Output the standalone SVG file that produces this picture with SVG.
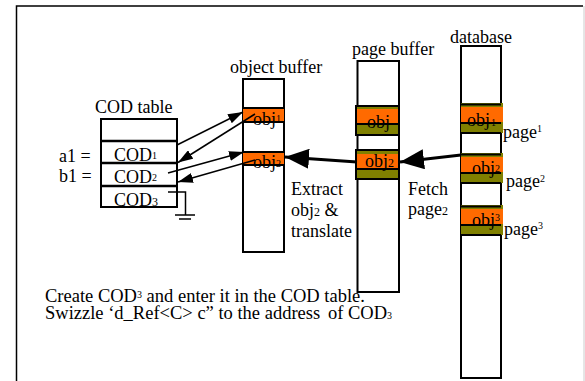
<svg xmlns="http://www.w3.org/2000/svg" width="585" height="381" viewBox="0 0 585 381" font-family="'Liberation Serif', 'Times New Roman', Times, 'DejaVu Serif', serif">
<style>
text{font-family:'Liberation Serif','Times New Roman',Times,'DejaVu Serif',serif;font-size:18px;fill:#000}
.s{font-size:10px}
.m{font-size:12px}
.note{font-size:18.5px}
.box{fill:#fff;stroke:#000;stroke-width:2}
.div{stroke:#000;stroke-width:2.5}
.or{fill:#ff6a00}
.ol{fill:#808000}
.bl{stroke:#000;stroke-width:2}
.thin{stroke:#000;stroke-width:1.5;fill:none}
.thick{stroke:#000;stroke-width:3.2;fill:none}
</style>
<defs>
<marker id="ah" markerUnits="userSpaceOnUse" markerWidth="15" markerHeight="10" refX="15" refY="5" orient="auto"><path d="M0,0 L15,5 L0,10 z" fill="#000"/></marker>
<marker id="bh" markerUnits="userSpaceOnUse" markerWidth="24" markerHeight="20" refX="24" refY="10" orient="auto"><path d="M0,0 L24,10 L0,20 z" fill="#000"/></marker>
</defs>
<rect width="585" height="381" fill="#fff"/>
<g id="frame">
<path d="M16.5,381 V6 H583" fill="none" stroke="#000" stroke-width="1.5"/>
<path d="M584,6 V381" fill="none" stroke="#ccc" stroke-width="1"/>
</g>
<g id="cod-table">
<text x="95" y="113">COD table</text>
<rect class="box" x="101" y="119" width="76" height="88"/>
<line class="div" x1="101" y1="141" x2="177" y2="141"/>
<line class="div" x1="101" y1="163" x2="177" y2="163"/>
<line class="div" x1="101" y1="186" x2="177" y2="186"/>
<text x="114" y="161">COD<tspan class="s" dy="-2">1</tspan></text>
<text x="114" y="183">COD<tspan class="s" dy="-2">2</tspan></text>
<text x="114" y="206">COD<tspan class="m">3</tspan></text>
<text x="59" y="162">a1 =</text>
<text x="59" y="182">b1 =</text>
<path class="thin" d="M168,192 H185.5 V215 M175,215 H195 M179,219 H191"/>
</g>
<g id="object-buffer">
<text x="230" y="73">object buffer</text>
<rect class="box" x="243" y="79" width="41" height="173"/>
<rect class="or" x="243" y="108" width="41" height="14"/>
<line class="bl" x1="243" y1="108" x2="284" y2="108"/>
<line class="bl" x1="243" y1="122" x2="284" y2="122"/>
<text x="253" y="125">obj<tspan class="s" dy="-3">1</tspan></text>
<rect class="or" x="243" y="152" width="41" height="13"/>
<line class="bl" x1="243" y1="152" x2="284" y2="152"/>
<line class="bl" x1="243" y1="165" x2="284" y2="165"/>
<text x="253" y="168">obj<tspan class="s" dy="-1">2</tspan></text>
</g>
<g id="page-buffer">
<text x="352" y="55">page buffer</text>
<rect class="box" x="357.5" y="61" width="41.5" height="231"/>
<rect class="ol" x="356" y="105" width="44" height="30"/>
<rect class="or" x="356" y="109" width="44" height="14"/>
<rect x="356" y="106" width="43" height="29" fill="none" stroke="#000" stroke-width="2"/>
<line class="bl" x1="356" y1="124" x2="399" y2="124"/>
<text x="367" y="128">obj</text>
<rect class="ol" x="356" y="149" width="44" height="30"/>
<rect class="or" x="356" y="154" width="44" height="14"/>
<rect x="356" y="150" width="43" height="29" fill="none" stroke="#000" stroke-width="2"/>
<line class="bl" x1="356" y1="169" x2="399" y2="169"/>
<text x="365" y="167">obj<tspan class="m">2</tspan></text>
</g>
<g id="database">
<text x="450" y="43">database</text>
<rect class="box" x="461" y="46" width="40" height="332"/>
<rect class="ol" x="461" y="103" width="42" height="30"/>
<rect class="or" x="461" y="107" width="42" height="15"/>
<line class="bl" x1="461" y1="104.5" x2="501" y2="104.5"/>
<line class="bl" x1="461" y1="123" x2="501" y2="123"/>
<line class="bl" x1="461" y1="133" x2="501" y2="133"/>
<text x="467" y="126">obj<tspan class="s" dx="1">1</tspan></text>
<rect class="ol" x="461" y="153" width="42" height="30"/>
<rect class="or" x="461" y="157" width="42" height="15"/>
<line class="bl" x1="461" y1="154.5" x2="501" y2="154.5"/>
<line class="bl" x1="461" y1="173" x2="501" y2="173"/>
<line class="bl" x1="461" y1="183" x2="501" y2="183"/>
<text x="472" y="174">obj<tspan class="s" dy="-2">2</tspan></text>
<rect class="ol" x="461" y="205" width="42" height="30"/>
<rect class="or" x="461" y="209" width="42" height="15"/>
<line class="bl" x1="461" y1="206.5" x2="501" y2="206.5"/>
<line class="bl" x1="461" y1="225" x2="501" y2="225"/>
<line class="bl" x1="461" y1="235" x2="501" y2="235"/>
<text x="472" y="226">obj<tspan class="s" dy="-5">3</tspan></text>
<text x="503" y="138">page<tspan class="s" dy="-6">1</tspan></text>
<text x="506" y="187">page<tspan class="s" dy="-5">2</tspan></text>
<text x="504" y="235">page<tspan class="s" dy="-6">3</tspan></text>
</g>
<g id="connectors">
<line class="thin" x1="177" y1="145" x2="243" y2="112" marker-end="url(#ah)"/>
<line class="thin" x1="255" y1="114" x2="178" y2="162.5" marker-end="url(#ah)"/>
<line class="thin" x1="168" y1="173" x2="244" y2="152" marker-end="url(#ah)"/>
<line class="thin" x1="255" y1="160" x2="178" y2="182" marker-end="url(#ah)"/>
<line class="thick" x1="461" y1="155" x2="400" y2="162" marker-end="url(#bh)"/>
<line class="thick" x1="357" y1="162" x2="285" y2="157" marker-end="url(#bh)"/>
</g>
<g id="labels">
<text x="291" y="195">Extract</text>
<text x="291" y="216">obj<tspan class="m">2</tspan> &amp;</text>
<text x="291" y="237">translate</text>
<text x="408" y="195">Fetch</text>
<text x="408" y="215">page<tspan class="m">2</tspan></text>
<text class="note" x="45" y="302">Create COD<tspan class="s" dy="-4">3</tspan><tspan dy="4"> and enter it in the COD table.</tspan></text>
<text class="note" x="45" y="319">Swizzle ‘d_Ref&lt;C&gt; c” to the address</text>
<text class="note" x="328" y="319">of</text>
<text class="note" x="348" y="319">COD<tspan class="s">3</tspan></text>
</g>
</svg>
